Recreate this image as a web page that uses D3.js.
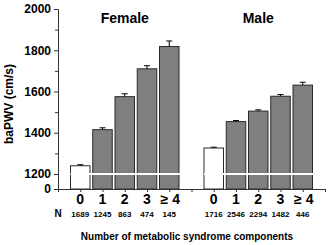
<!DOCTYPE html>
<html>
<head>
<meta charset="utf-8">
<script src="https://cdn.jsdelivr.net/npm/d3@7"></script>
<style>
body { margin: 0; background: #fff; }
svg text { font-family: "Liberation Sans", Arial, sans-serif; font-weight: bold; fill: #000; }
</style>
</head>
<body>
<div id="chart"></div>
<script>
// data
var groups = ["Female", "Male"];
var categories = ["0", "1", "2", "3", "\u2265 4"];
var femaleMean = [1240, 1415, 1575, 1710, 1818];
var femaleErr = [5, 9, 14, 15, 27];
var maleMean = [1326, 1454, 1505, 1577, 1631];
var maleErr = [4, 5, 6, 8, 14];
var femaleN = [1689, 1245, 863, 474, 145];
var maleN = [1716, 2546, 2294, 1482, 446];
var yMajor = [0, 1200, 1400, 1600, 1800, 2000];
var yMinor = [1300, 1500, 1700, 1900];

var width = 329, height = 245;

var svg = d3.select("#chart")
	.append("svg")
		.attr("width", width)
		.attr("height", height);

// x: slot positions, female 0..4, gap, male 6..10
var x = d3.scaleLinear()
	.domain([-1, 11])
	.range([58, 325]);

// broken y axis, 0-1200 squeezed at bottom
var y = d3.scaleLinear()
	.domain([0, 1200, 2000])
	.range([189, 174, 9]);

var barW = 19.5;

var rows = [];
femaleMean.forEach((v, i) => rows.push({pos: i, v: v, e: femaleErr[i], n: femaleN[i], cat: categories[i]}));
maleMean.forEach((v, i) => rows.push({pos: i + 6, v: v, e: maleErr[i], n: maleN[i], cat: categories[i]}));

// bars
svg.selectAll("rect.bar")
	.data(rows)
	.enter().append("rect")
		.attr("class", "bar")
		.attr("x", d => x(d.pos) - barW / 2)
		.attr("width", barW)
		.attr("y", d => y(d.v))
		.attr("height", d => y(0) - y(d.v))
		.attr("fill", d => d.cat == "0" ? "#ffffff" : "#7f7f7f")
		.attr("stroke", "#2a2a2a")
		.attr("stroke-width", 1);

// white break line at 1200
[[0, 4], [6, 10]].forEach(g => {
	svg.append("line")
		.attr("x1", x(g[0]) - barW / 2)
		.attr("x2", x(g[1]) + barW / 2 + 1)
		.attr("y1", y(1200))
		.attr("y2", y(1200))
		.attr("stroke", "#ffffff")
		.attr("stroke-width", 2);
});

// error bars (upper only)
var eb = svg.selectAll("g.err")
	.data(rows)
	.enter().append("g")
		.attr("class", "err");
eb.append("line")
	.attr("x1", d => x(d.pos)).attr("x2", d => x(d.pos))
	.attr("y1", d => y(d.v)).attr("y2", d => y(d.v + d.e))
	.attr("stroke", "#000").attr("stroke-width", 1);
eb.append("line")
	.attr("x1", d => x(d.pos) - 3).attr("x2", d => x(d.pos) + 3)
	.attr("y1", d => y(d.v + d.e)).attr("y2", d => y(d.v + d.e))
	.attr("stroke", "#000").attr("stroke-width", 1);

// axes
var yAxis = svg.append("g")
	.attr("transform", "translate(58,0)")
	.call(d3.axisLeft(y).tickValues(yMajor).tickSize(4).tickPadding(3).tickFormat(d3.format("d")));
yAxis.selectAll("text").style("font-size", "12px").attr("font-family", null);
svg.append("g")
	.attr("transform", "translate(58,0)")
	.call(d3.axisLeft(y).tickValues(yMinor).tickSize(3).tickFormat(""))
	.select(".domain").remove();

var xAxis = svg.append("g")
	.attr("transform", "translate(0,189)")
	.call(d3.axisBottom(x).tickValues(d3.range(-1, 12)).tickSize(3).tickSizeOuter(0).tickFormat(""));

svg.selectAll(".domain").attr("stroke", "#333");
svg.selectAll(".tick line").attr("stroke", "#333");

// category labels
svg.selectAll("text.cat")
	.data(rows)
	.enter().append("text")
		.attr("class", "cat")
		.attr("x", d => x(d.pos) + (d.cat.length > 1 ? 1 : 0))
		.attr("y", 204)
		.attr("text-anchor", "middle")
		.style("font-size", "14px")
		.text(d => d.cat);

// N row
svg.append("text")
	.attr("x", 58)
	.attr("y", 217)
	.attr("text-anchor", "middle")
	.style("font-size", "10px")
	.text("N");
svg.selectAll("text.n")
	.data(rows)
	.enter().append("text")
		.attr("class", "n")
		.attr("x", d => x(d.pos))
		.attr("y", 217)
		.attr("text-anchor", "middle")
		.style("font-size", "8px")
		.text(d => d.n);

// group titles
svg.selectAll("text.grp")
	.data(groups)
	.enter().append("text")
		.attr("class", "grp")
		.attr("x", (d, i) => x(i * 6 + 2))
		.attr("y", 23)
		.attr("text-anchor", "middle")
		.style("font-size", "14px")
		.text(d => d);

// axis titles
svg.append("text")
	.attr("transform", "translate(13,104) rotate(-90)")
	.attr("text-anchor", "middle")
	.style("font-size", "12px")
	.text("baPWV (cm/s)");
svg.append("text")
	.attr("x", 187)
	.attr("y", 240)
	.attr("text-anchor", "middle")
	.style("font-size", "10px")
	.text("Number of metabolic syndrome components");
</script>
</body>
</html>
